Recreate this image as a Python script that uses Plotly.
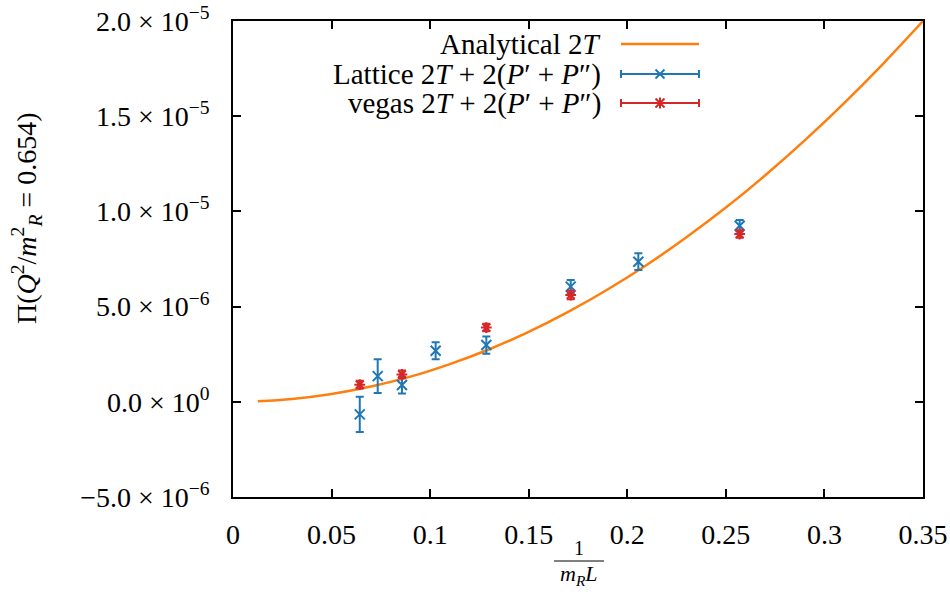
import plotly.graph_objects as go

# ---------------- data ----------------
curve_x = [0.0126, 0.03, 0.05, 0.07, 0.09, 0.11, 0.13, 0.15, 0.17, 0.19,
           0.21, 0.23, 0.25, 0.27, 0.29, 0.31, 0.33, 0.35]
curve_y = [0.026e-6, 0.147e-6, 0.41e-6, 0.80e-6, 1.32e-6, 1.98e-6, 2.76e-6, 3.67e-6,
           4.72e-6, 5.90e-6, 7.20e-6, 8.64e-6, 10.2e-6, 11.9e-6, 13.73e-6, 15.69e-6,
           17.78e-6, 20.0e-6]

lattice_x = [0.0643, 0.0734, 0.0857, 0.1028, 0.1285, 0.1713, 0.2056, 0.257]
lattice_y = [-0.66e-6, 1.35e-6, 0.88e-6, 2.68e-6, 2.98e-6, 6.05e-6, 7.36e-6, 9.25e-6]
lattice_err = [0.92e-6, 0.89e-6, 0.44e-6, 0.45e-6, 0.45e-6, 0.35e-6, 0.44e-6, 0.30e-6]

vegas_x = [0.0643, 0.0857, 0.1285, 0.1713, 0.257]
vegas_y = [0.90e-6, 1.44e-6, 3.90e-6, 5.61e-6, 8.81e-6]
vegas_err = [0.2e-6, 0.2e-6, 0.2e-6, 0.22e-6, 0.2e-6]

x_tickvals = [0, 0.05, 0.1, 0.15, 0.2, 0.25, 0.3, 0.35]
x_ticktext = ["0", "0.05", "0.1", "0.15", "0.2", "0.25", "0.3", "0.35"]
y_tickvals = [-5e-6, 0, 5e-6, 1e-5, 1.5e-5, 2e-5]
y_ticktext = ["−5.0 × 10<sup>−6</sup>", "0.0 × 10<sup>0</sup>", "5.0 × 10<sup>−6</sup>",
              "1.0 × 10<sup>−5</sup>", "1.5 × 10<sup>−5</sup>", "2.0 × 10<sup>−5</sup>"]

legend_labels = ["Analytical 2<i>T</i>",
                 "Lattice 2<i>T</i> + 2(<i>P</i>′ + <i>P</i>″)",
                 "vegas 2<i>T</i> + 2(<i>P</i>′ + <i>P</i>″)"]

ORANGE = "#ff7f0e"
BLUE = "#1f77b4"
RED = "#d62728"
FONT = "Liberation Serif"
FS = 28

W, H = 950, 592
L, R, T, B = 233, 27, 21, 95
PW, PH = W - L - R, H - T - B


def px(x):
    return (x - L) / PW


def py(y):
    return (H - B - y) / PH


fig = go.Figure()
fig.add_trace(go.Scatter(x=curve_x, y=curve_y, mode="lines", line_shape="spline",
                         line=dict(color=ORANGE, width=2.5), name=legend_labels[0]))
fig.add_trace(go.Scatter(x=lattice_x, y=lattice_y, mode="markers", name=legend_labels[1],
                         marker=dict(symbol="x-thin-open", size=10,
                                     line=dict(color=BLUE, width=2), color=BLUE),
                         error_y=dict(type="data", array=lattice_err, color=BLUE,
                                      thickness=2, width=4)))
fig.add_trace(go.Scatter(x=vegas_x, y=vegas_y, mode="markers", name=legend_labels[2],
                         marker=dict(symbol="asterisk-open", size=9,
                                     line=dict(color=RED, width=2), color=RED),
                         error_y=dict(type="data", array=vegas_err, color=RED,
                                      thickness=2, width=4)))

axis_common = dict(showline=True, linecolor="black", linewidth=1.5, mirror="allticks",
                   ticks="inside", ticklen=8, tickwidth=1.5, tickcolor="black",
                   showgrid=False, zeroline=False, automargin=False,
                   tickfont=dict(family=FONT, size=FS, color="black"))

fig.update_xaxes(range=[0, 0.35], tickvals=x_tickvals, ticktext=x_ticktext,
                 ticklabelstandoff=12, **axis_common)
fig.update_yaxes(range=[-5e-6, 2e-5], tickvals=y_tickvals, ticktext=y_ticktext,
                 ticklabelstandoff=16, **axis_common)

annotations = []
shapes = []
# manual legend (text on the left, sample on the right, as in gnuplot)
leg_y = [44, 74, 103]
for lab, yy in zip(legend_labels, leg_y):
    annotations.append(dict(text=lab, xref="paper", yref="paper", x=px(603), y=py(yy),
                            xanchor="right", yanchor="middle", showarrow=False,
                            font=dict(family=FONT, size=FS + 1, color="black")))
x0, x1, xc = 621, 699, 660
shapes.append(dict(type="line", xref="paper", yref="paper", x0=px(x0), x1=px(x1),
                   y0=py(leg_y[0]), y1=py(leg_y[0]), line=dict(color=ORANGE, width=2.5)))
for col, yy in [(BLUE, leg_y[1]), (RED, leg_y[2])]:
    shapes.append(dict(type="line", xref="paper", yref="paper", x0=px(x0), x1=px(x1),
                       y0=py(yy), y1=py(yy), line=dict(color=col, width=2)))
    for xe in (x0, x1):
        shapes.append(dict(type="line", xref="paper", yref="paper", x0=px(xe), x1=px(xe),
                           y0=py(yy - 4), y1=py(yy + 4), line=dict(color=col, width=2)))
    d = 4.5
    shapes.append(dict(type="line", xref="paper", yref="paper", x0=px(xc - d), x1=px(xc + d),
                       y0=py(yy - d), y1=py(yy + d), line=dict(color=col, width=2)))
    shapes.append(dict(type="line", xref="paper", yref="paper", x0=px(xc - d), x1=px(xc + d),
                       y0=py(yy + d), y1=py(yy - d), line=dict(color=col, width=2)))
    if col == RED:
        shapes.append(dict(type="line", xref="paper", yref="paper", x0=px(xc), x1=px(xc),
                           y0=py(yy - d - 1), y1=py(yy + d + 1), line=dict(color=col, width=2)))

# y-axis title
annotations.append(dict(text="Π(<i>Q</i><sup>2</sup>/<i>m</i><sup>2</sup><sub><i>R</i></sub> = 0.654)",
                        xref="paper", yref="paper", x=px(27), y=py(219), textangle=-90,
                        xanchor="center", yanchor="middle", showarrow=False,
                        font=dict(family=FONT, size=FS, color="black")))
# x-axis title as a fraction 1/(m_R L)
annotations.append(dict(text="1", xref="paper", yref="paper", x=px(579), y=py(548),
                        xanchor="center", yanchor="middle", showarrow=False,
                        font=dict(family=FONT, size=20, color="black")))
annotations.append(dict(text="<i>m</i><sub><i>R</i></sub><i>L</i>", xref="paper", yref="paper",
                        x=px(579), y=py(575), xanchor="center", yanchor="middle",
                        showarrow=False, font=dict(family=FONT, size=22, color="black")))
shapes.append(dict(type="line", xref="paper", yref="paper", x0=px(554), x1=px(604),
                   y0=py(561), y1=py(561), line=dict(color="black", width=1)))

fig.update_layout(width=W, height=H, margin=dict(l=L, r=R, t=T, b=B, autoexpand=False),
                  plot_bgcolor="white", paper_bgcolor="white", showlegend=False,
                  annotations=annotations, shapes=shapes,
                  font=dict(family=FONT, color="black"))

fig.write_html("out.html", config={"displayModeBar": False},
               post_script="document.body.style.margin='0';"
                           "document.documentElement.style.overflow='hidden';")
